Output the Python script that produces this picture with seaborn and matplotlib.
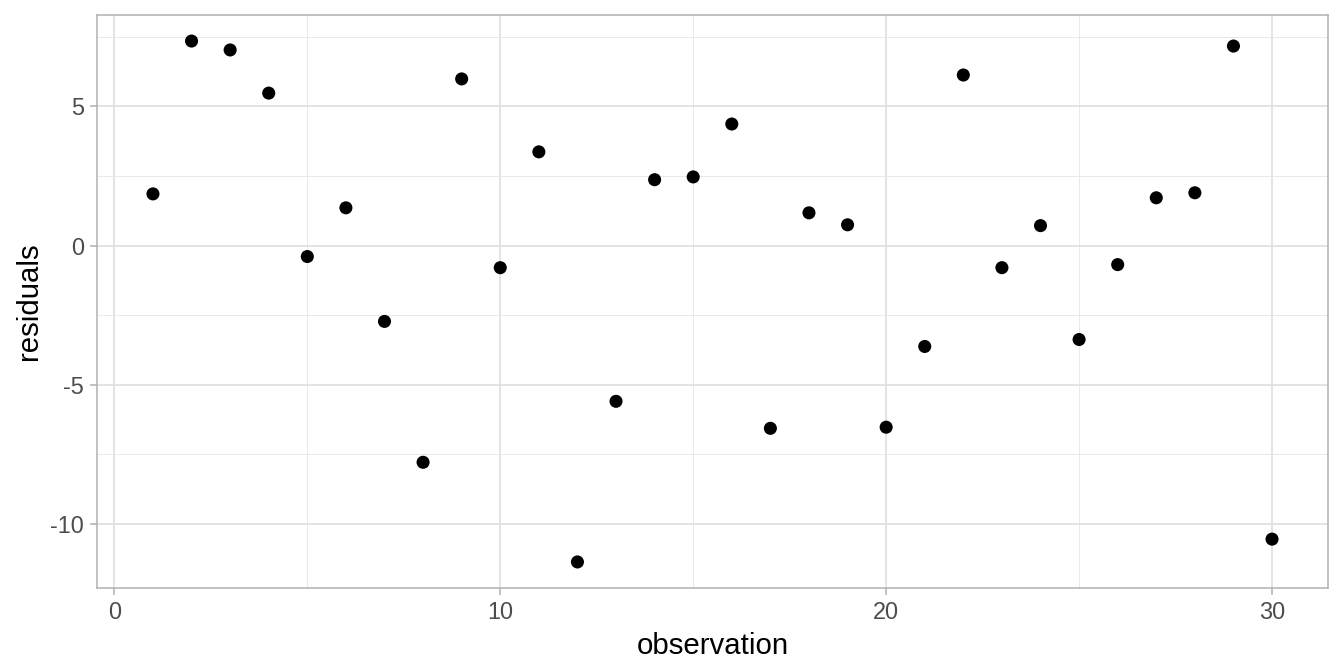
import numpy as np
import pandas as pd
import seaborn as sns
import matplotlib.pyplot as plt
from matplotlib.ticker import MultipleLocator

# residuals
observation = list(range(1, 31))
residuals = [1.86, 7.35, 7.03, 5.48, -0.39, 1.36, -2.72, -7.78, 5.99, -0.79,
             3.37, -11.36, -5.59, 2.37, 2.47, 4.37, -6.56, 1.18, 0.75, -6.52,
             -3.62, 6.13, -0.79, 0.72, -3.37, -0.68, 1.72, 1.90, 7.17, -10.54]

df = pd.DataFrame({'observation': observation, 'residuals': residuals})

sns.set_theme(style="white")
plt.rcParams['font.family'] = ['Liberation Sans', 'DejaVu Sans']
plt.rcParams['axes.unicode_minus'] = False

fig = plt.figure(figsize=(7, 3.5), dpi=192)
ax = fig.add_axes([97 / 1344, 1 - 588 / 672, (1328 - 97) / 1344, (588 - 15) / 672])

sns.scatterplot(data=df, x='observation', y='residuals', ax=ax,
                color='black', s=24, edgecolor='none', zorder=3)

# ggplot-style 5% expansion
xr = max(observation) - min(observation)
yr = max(residuals) - min(residuals)
ax.set_xlim(min(observation) - 0.05 * xr, max(observation) + 0.05 * xr)
ax.set_ylim(min(residuals) - 0.05 * yr, max(residuals) + 0.05 * yr)

ax.xaxis.set_major_locator(MultipleLocator(10))
ax.xaxis.set_minor_locator(MultipleLocator(5))
ax.yaxis.set_major_locator(MultipleLocator(5))
ax.yaxis.set_minor_locator(MultipleLocator(2.5))

ax.grid(which='major', color='#DEDEDE', linewidth=0.6)
ax.grid(which='minor', color='#E8E8E8', linewidth=0.35)
ax.set_axisbelow(True)

for sp in ax.spines.values():
    sp.set_color('#B3B3B3')
    sp.set_linewidth(0.6)

ax.tick_params(which='major', length=2.75, width=0.6, color='#B3B3B3',
               labelsize=8.8, labelcolor='#4D4D4D', pad=2.2,
               bottom=True, left=True)
ax.tick_params(which='minor', length=0, bottom=False, left=False)

ax.set_xlabel('observation', fontsize=11, color='black', labelpad=2.75)
ax.set_ylabel('residuals', fontsize=11, color='black', labelpad=2.75)

fig.savefig('out.png', dpi=192)
